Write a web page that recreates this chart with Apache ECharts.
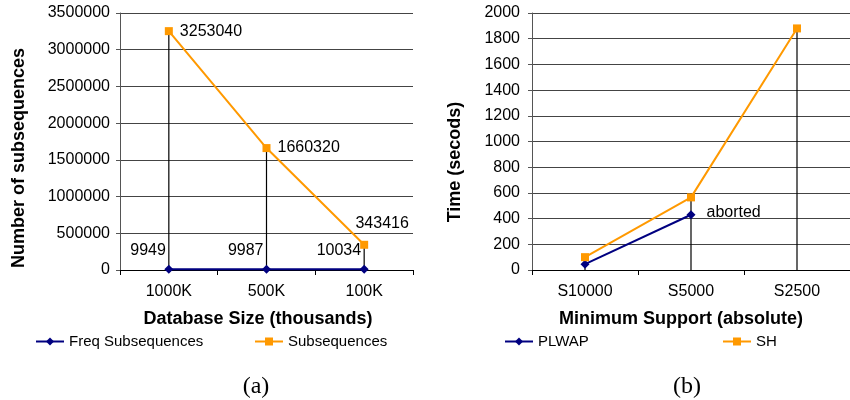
<!DOCTYPE html>
<html>
<head>
<meta charset="utf-8">
<script src="https://cdn.jsdelivr.net/npm/echarts@6/dist/echarts.min.js"></script>
<style>
  html, body { margin: 0; padding: 0; background: #fff; }
  #chart { width: 850px; height: 400px; }
</style>
</head>
<body>
<div id="chart"></div>
<script>
// (a) database size vs. number of subsequences
const sizeCategories = ['1000K', '500K', '100K'];
const freqSubsequences = [9949, 9987, 10034];
const subsequences = [3253040, 1660320, 343416];

// (b) minimum support vs. running time
const supportCategories = ['S10000', 'S5000', 'S2500'];
const plwapTimes = [45, 430, null];
const shTimes = [100, 565, 1880];
const plwapNote = 'aborted';

const NAVY = '#000080';
const ORANGE = '#FF9900';
const FONT = '"Liberation Sans", Arial, sans-serif';
const SERIF = '"Liberation Serif", "Times New Roman", serif';

const chart = echarts.init(document.getElementById('chart'), null, { renderer: 'canvas' });

function categoryAxis(gridIndex, data) {
  return {
    type: 'category', gridIndex, data, boundaryGap: true,
    axisLine: { show: true, lineStyle: { color: '#000', width: 1 } },
    axisTick: { show: true, length: 5, lineStyle: { color: '#000' } },
    axisLabel: { color: '#000', fontFamily: FONT, fontSize: 16, margin: 14 },
    splitLine: { show: false }
  };
}

function valueAxis(gridIndex, max, interval, margin) {
  return {
    type: 'value', gridIndex, min: 0, max, interval,
    axisLine: { show: true, lineStyle: { color: '#555', width: 1 } },
    axisTick: { show: true, length: 4, lineStyle: { color: '#555' } },
    axisLabel: {
      color: '#000', fontFamily: FONT, fontSize: 16, margin,
      formatter: (v) => String(v)
    },
    splitLine: { show: true, lineStyle: { color: '#444', width: 1 } }
  };
}

// vertical drop line from each point down to the category axis
function dropLines(xi, yi, data) {
  return {
    type: 'custom', xAxisIndex: xi, yAxisIndex: yi, silent: true, z: 1,
    data: data.map((v, i) => [i, v]),
    encode: { x: 0, y: 1 },
    renderItem: (params, api) => {
      const top = api.coord([api.value(0), api.value(1)]);
      const base = api.coord([api.value(0), 0]);
      return {
        type: 'line',
        shape: { x1: top[0], y1: top[1], x2: base[0], y2: base[1] },
        style: { stroke: '#000', lineWidth: 1.2 }
      };
    }
  };
}

const labelFont = { color: '#000', fontFamily: FONT, fontSize: 16 };

// per-point label placement for the Subsequences series
const subseqLabelPlace = [
  { position: 'right', offset: [2, 0] },
  { position: 'right', offset: [2, 0] },
  { position: 'top', offset: [18, -4] }
];

function legendAt(left, name) {
  return {
    data: [name], left, top: 334, itemWidth: 28, itemHeight: 10, itemGap: 0,
    textStyle: { color: '#000', fontFamily: FONT, fontSize: 15 },
    padding: 0, selectedMode: false
  };
}

function textAt(x, y, text, opts) {
  return Object.assign({
    type: 'text', x, y,
    style: Object.assign({
      text, fill: '#000', fontFamily: FONT, fontSize: 18, fontWeight: 'bold',
      align: 'center', verticalAlign: 'middle'
    }, opts && opts.style)
  }, opts && opts.props);
}

const option = {
  animation: false,
  backgroundColor: '#fff',
  grid: [
    { left: 120, right: 437, top: 13, bottom: 130, containLabel: false },
    { left: 532, right: 0, top: 13, bottom: 130, containLabel: false }
  ],
  xAxis: [categoryAxis(0, sizeCategories), categoryAxis(1, supportCategories)],
  yAxis: [valueAxis(0, 3500000, 500000, 10), valueAxis(1, 2000, 200, 12)],
  legend: [
    legendAt(35, 'Freq Subsequences'),
    legendAt(254, 'Subsequences'),
    legendAt(504, 'PLWAP'),
    legendAt(722, 'SH')
  ],
  series: [
    dropLines(0, 0, subsequences),
    {
      name: 'Freq Subsequences', type: 'line', xAxisIndex: 0, yAxisIndex: 0,
      data: freqSubsequences, z: 3,
      symbol: 'diamond', symbolSize: 9,
      lineStyle: { color: NAVY, width: 2 }, itemStyle: { color: NAVY },
      label: Object.assign({ show: true, position: 'top', align: 'right', offset: [-3, -1] }, labelFont)
    },
    {
      name: 'Subsequences', type: 'line', xAxisIndex: 0, yAxisIndex: 0,
      data: subsequences.map((v, i) => ({
        value: v,
        label: Object.assign({ show: true }, labelFont, subseqLabelPlace[i])
      })),
      z: 4,
      symbol: 'rect', symbolSize: 8,
      lineStyle: { color: ORANGE, width: 2 }, itemStyle: { color: ORANGE }
    },
    dropLines(1, 1, shTimes),
    {
      name: 'PLWAP', type: 'line', xAxisIndex: 1, yAxisIndex: 1,
      data: plwapTimes.map((v, i) => (i === 1 ? {
        value: v,
        label: Object.assign({ show: true, position: 'right', offset: [6, -2], formatter: plwapNote }, labelFont)
      } : v)),
      z: 3,
      symbol: 'diamond', symbolSize: 9,
      lineStyle: { color: NAVY, width: 2 }, itemStyle: { color: NAVY }
    },
    {
      name: 'SH', type: 'line', xAxisIndex: 1, yAxisIndex: 1,
      data: shTimes, z: 4,
      symbol: 'rect', symbolSize: 8,
      lineStyle: { color: ORANGE, width: 2 }, itemStyle: { color: ORANGE }
    }
  ],
  graphic: [
    textAt(19, 158, 'Number of subsequences', { props: { rotation: Math.PI / 2 } }),
    textAt(455, 162, 'Time (secods)', { props: { rotation: Math.PI / 2 } }),
    textAt(258, 319, 'Database Size (thousands)'),
    textAt(681, 319, 'Minimum Support (absolute)'),
    textAt(256, 387, '(a)', { style: { fontFamily: SERIF, fontSize: 24, fontWeight: 'normal' } }),
    textAt(687, 387, '(b)', { style: { fontFamily: SERIF, fontSize: 24, fontWeight: 'normal' } })
  ]
};

chart.setOption(option);
</script>
</body>
</html>
